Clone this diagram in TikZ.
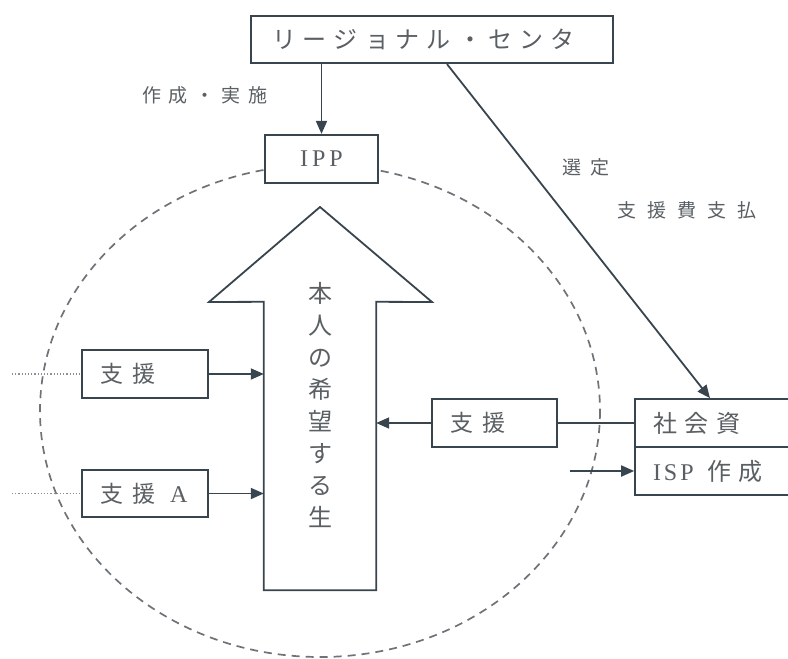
\documentclass[tikz,border=0pt]{standalone}
\usepackage{fontspec}
\setmainfont{Liberation Serif}
\newfontfamily\jp{Noto Sans CJK JP}
\usetikzlibrary{arrows.meta,calc}
\definecolor{lnc}{HTML}{38454F}
\definecolor{txc}{HTML}{5A5F63}
\definecolor{dsc}{HTML}{6E7377}
\newcommand\jgap[1]{\hspace{#1pt}}
\begin{document}
\begin{tikzpicture}[x=1pt,y=-1pt,
  box/.style={draw=lnc,line width=1.6pt,fill=white,inner ysep=0pt,
    minimum height=48pt,text=txc,align=left},
  bigbox/.style={box,line width=2.2pt},
  lbl/.style={text=txc,inner sep=0pt,font=\jp\fontsize{19}{19}\selectfont},
  conn/.style={draw=lnc,line width=1.8pt},
  arr/.style={conn,-{Triangle[length=13pt,width=11pt]}},
  dots/.style={draw=dsc!80,line width=1.2pt,dotted}
]
\clip (0,0) rectangle (788,659);
\useasboundingbox (0,0) rectangle (788,659);

% dashed circle (behind everything)
\draw[dsc,line width=1.7pt,dash pattern=on 8pt off 6pt] (320,411) ellipse [x radius=280, y radius=246];

% big arrow shaft as an invisible node
\node[minimum width=112pt,minimum height=288pt,inner sep=0pt] (shaft) at (320,446) {};
\fill[white,draw=lnc,line width=1.8pt] (shaft.south west) -- (shaft.north west) -- (209,302) -- (320,207) -- (432,302) -- (shaft.north east) -- (shaft.south east) -- cycle;
\node[text=txc,align=center,inner sep=0pt,font=\jp\fontsize{24}{32}\selectfont] (hope) at (320,405)
  {本\\人\\の\\希\\望\\す\\る\\生};

% boxes
\node[bigbox,minimum height=47pt,text width=320pt,inner xsep=21pt,font=\jp\fontsize{24}{24}\selectfont] (top) at (432,39.5)
  {リ\jgap{7}ー\jgap{7}ジ\jgap{7}ョ\jgap{7}ナ\jgap{7}ル\jgap{7}・\jgap{7}セ\jgap{7}ン\jgap{7}タ};
\node[bigbox,minimum width=113pt,align=center,font=\fontsize{24}{24}\selectfont] (ipp) at (321.5,159)
  {I\jgap{4}P\jgap{4}P};

\node[box,text width=90pt,inner xsep=18pt,font=\jp\fontsize{23}{23}\selectfont] (s1) at (145,374)
  {支\jgap{10}援};
\node[box,minimum height=47pt,text width=90pt,inner xsep=18pt,font=\jp\fontsize{23}{23}\selectfont] (s2) at (145,493.5)
  {支\jgap{10}援\jgap{14}{\rmfamily\fontsize{24}{24}\selectfont A}};
\node[box,text width=89pt,inner xsep=18pt,font=\jp\fontsize{23}{23}\selectfont] (s3) at (494.5,423)
  {支\jgap{10}援};
\node[box,text width=129pt,inner xsep=18pt,font=\jp\fontsize{24}{24}\selectfont] (shakai) at (717.5,423)
  {社\jgap{7.5}会\jgap{7.5}資};
\node[box,text width=129pt,inner xsep=18pt,font=\jp\fontsize{24}{24}\selectfont] (isp) at (717.5,471)
  {{\rmfamily\fontsize{24}{24}\selectfont I\jgap{3}S\jgap{3}P}\jgap{14}作\jgap{7}成};

% labels
\node[lbl] (l1) at (205,95) {作\jgap{7.5}成\jgap{7.5}・\jgap{7.5}実\jgap{7.5}施};
\node[lbl] (l2) at (586,167) {選\jgap{9}定};
\node[lbl] (l3) at (687,210) {支\jgap{11}援\jgap{11}費\jgap{11}支\jgap{11}払};

% connectors
\draw[arr] (ipp.north |- top.south) -- (ipp.north);
\draw[arr] ([xshift=15pt]top.south) -- ([xshift=-7.5pt]shakai.north);
\draw[arr] (s1.east) -- (s1.east -| shaft.west);
\draw[arr] (s2.east) -- (s2.east -| shaft.west);
\draw[arr] (s3.west) -- (s3.west -| shaft.east);
\draw[conn] (s3.east) -- (shakai.west);
\coordinate (ispin) at (570,471);
\draw[arr] (ispin) -- (isp.west);
\coordinate (d1) at (12,374);
\coordinate (d2) at (12,493.5);
\draw[dots] (d1) -- (s1.west);
\draw[dots] (d2) -- (s2.west);
\end{tikzpicture}
\end{document}
